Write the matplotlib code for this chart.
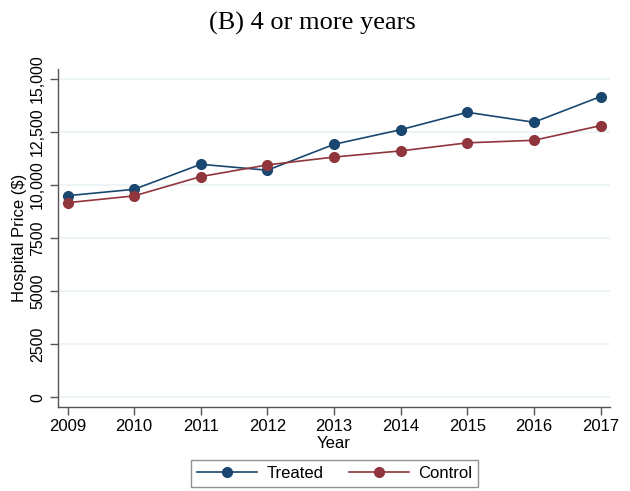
import matplotlib
matplotlib.use("Agg")
import matplotlib.pyplot as plt

years = [2009, 2010, 2011, 2012, 2013, 2014, 2015, 2016, 2017]
treated = [9500, 9800, 10980, 10700, 11920, 12610, 13430, 12960, 14170]
control = [9170, 9490, 10400, 10950, 11320, 11610, 11990, 12110, 12800]
ytick_vals = [0, 2500, 5000, 7500, 10000, 12500, 15000]
ytick_labels = ["0", "2500", "5000", "7500", "10,000", "12,500", "15,000"]

navy = "#1a476f"
maroon = "#90353b"

plt.rcParams["font.family"] = ["Liberation Sans", "DejaVu Sans"]

fig = plt.figure(figsize=(6.3, 4.91), dpi=100)
ax = fig.add_axes([0.0913, 0.1717, 0.8767, 0.6878])

ax.plot(years, treated, color=navy, lw=1.2, marker="o", ms=7, label="Treated")
ax.plot(years, control, color=maroon, lw=1.2, marker="o", ms=7, label="Control")

ax.set_xlim(2008.85, 2017.14)
ax.set_ylim(-443, 15470)
ax.set_xticks(years)
ax.set_xticklabels([str(y) for y in years], fontsize=12)
ax.set_yticks(ytick_vals)
ax.set_yticklabels(ytick_labels, fontsize=11.5, rotation=90, va="center")

ax.grid(axis="y", color="#eaf2f3", lw=1.2)
ax.set_axisbelow(True)
for s in ["top", "right"]:
    ax.spines[s].set_visible(False)
for s in ["left", "bottom"]:
    ax.spines[s].set_color("#555555")
    ax.spines[s].set_linewidth(1.0)
ax.tick_params(axis="both", direction="out", length=6, width=1.0, color="#555555", pad=3)

ax.set_xlabel("Year", fontsize=12, labelpad=1)
ax.set_ylabel("Hospital Price ($)", fontsize=12, labelpad=2)

fig.text(0.496, 0.953, "(B) 4 or more years", ha="center", va="center",
         fontsize=19, family=["Liberation Serif", "DejaVu Serif"])

leg = fig.legend(loc="center", bbox_to_anchor=(0.531, 0.0356), ncol=2, fontsize=12,
                 frameon=True, fancybox=False, handlelength=3.6, columnspacing=1.5,
                 borderpad=0.35, handletextpad=0.6, borderaxespad=0)
leg.get_frame().set_edgecolor("#777777")
leg.get_frame().set_linewidth(1.0)

fig.savefig("out.png", dpi=100, facecolor="white")
